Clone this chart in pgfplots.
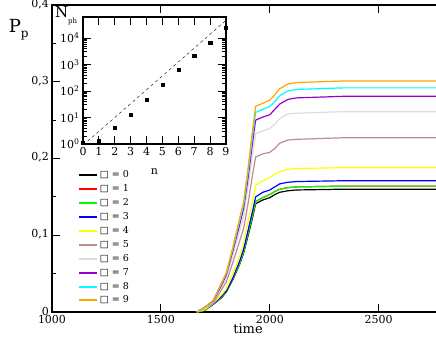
\documentclass[border=0pt]{standalone}
\usepackage{fontspec}
\setmainfont{DejaVu Serif}
\newfontfamily\symfont{DejaVu Sans}
\usepackage{pgfplots}
\usepackage{pgfplotstable}
\pgfplotsset{compat=1.18}

\definecolor{cred}{RGB}{255,0,0}
\definecolor{cgreen}{RGB}{0,255,0}
\definecolor{cblue}{RGB}{0,0,255}
\definecolor{cyellow}{RGB}{255,255,0}
\definecolor{cbrown}{HTML}{BC8F8F}
\definecolor{cgray}{HTML}{DCDCDC}
\definecolor{cpurple}{HTML}{9400D3}
\definecolor{ccyan}{RGB}{0,255,255}
\definecolor{corange}{HTML}{FFA500}

% cumulative curves P_p(time), one column per value 0..9
\pgfplotstableread{
t     c0    c1    c2    c3    c4    c5    c6    c7    c8    c9
1665  0     0     0     0     0     0     0     0     0     0
1700  0.002 0.002 0.002 0.003 0.003 0.005 0.005 0.006 0.006 0.006
1740  0.010 0.010 0.010 0.010 0.011 0.011 0.013 0.014 0.015 0.015
1780  0.019 0.020 0.020 0.021 0.023 0.030 0.034 0.036 0.038 0.039
1800  0.026 0.026 0.026 0.027 0.030 0.039 0.044 0.048 0.050 0.051
1830  0.042 0.043 0.043 0.044 0.049 0.064 0.073 0.079 0.082 0.084
1860  0.061 0.062 0.062 0.065 0.071 0.091 0.104 0.112 0.117 0.120
1880  0.077 0.079 0.079 0.082 0.090 0.109 0.125 0.135 0.140 0.144
1900  0.099 0.102 0.102 0.106 0.117 0.141 0.162 0.174 0.181 0.187
1920  0.122 0.125 0.125 0.130 0.143 0.177 0.204 0.219 0.228 0.235
1935  0.141 0.144 0.144 0.150 0.165 0.202 0.232 0.250 0.260 0.268
1968  0.146 0.149 0.149 0.156 0.171 0.206 0.236 0.254 0.264 0.272
2000  0.149 0.153 0.153 0.159 0.175 0.208 0.239 0.257 0.268 0.276
2023  0.153 0.157 0.157 0.163 0.180 0.213 0.245 0.264 0.274 0.283
2046  0.156 0.160 0.160 0.167 0.183 0.220 0.252 0.271 0.282 0.291
2083  0.158 0.162 0.162 0.169 0.186 0.224 0.258 0.277 0.288 0.297
2124  0.159 0.163 0.163 0.170 0.187 0.225 0.259 0.279 0.290 0.299
2335  0.160 0.164 0.164 0.171 0.188 0.227 0.261 0.281 0.292 0.301
2800  0.160 0.164 0.164 0.171 0.188 0.227 0.261 0.281 0.292 0.301
}\curves

\begin{document}
\begin{tikzpicture}
\begin{axis}[
  at={(52pt,44pt)}, anchor=south west,
  width=392pt, height=307pt, scale only axis,
  xmin=1000, xmax=2800, ymin=0, ymax=0.4,
  xtick={1000,1500,2000,2500},
  ytick={0,0.1,0.2,0.3,0.4}, minor y tick num=1,
  tick align=inside, major tick length=8pt, minor tick length=4pt,
  axis line style={line width=1.6pt},
  every tick/.style={black, line width=1pt},
  /pgf/number format/assume math mode=true,
  tick label style={font=\fontsize{11}{12}\selectfont, inner sep=1pt},
  xticklabel style={/pgf/number format/1000 sep={}, yshift=-2pt},
  yticklabel style={/pgf/number format/.cd, use comma, fixed, precision=1,
    /tikz/.cd, yshift=1pt, xshift=-2pt},
  xlabel={time},
  xlabel style={font=\fontsize{13}{14}\selectfont, yshift=4pt},
  ylabel={P\raisebox{-5pt}{\fontsize{12}{12}\selectfont p}},
  ylabel style={rotate=-90, at={(rel axis cs:-0.085,0.92)}, anchor=center,
    font=\fontsize{18}{18}\selectfont},
  legend cell align=left,
  legend style={draw=none, fill=none, at={(rel axis cs:0.058,0.475)},
    anchor=north west, font=\fontsize{9.5}{10}\selectfont, row sep=0pt,
    nodes={text height=7pt, text depth=2pt, inner ysep=2.45pt}},
  legend image code/.code={\draw[#1, line width=2pt] (0pt,0pt) -- (18pt,0pt);},
  every axis plot/.append style={line width=1.2pt},
]
\addplot[black]   table[x=t, y=c0] {\curves}; \addlegendentry{{\symfont □} = 0}
\addplot[cred]    table[x=t, y=c1] {\curves}; \addlegendentry{{\symfont □} = 1}
\addplot[cgreen]  table[x=t, y=c2] {\curves}; \addlegendentry{{\symfont □} = 2}
\addplot[cblue]   table[x=t, y=c3] {\curves}; \addlegendentry{{\symfont □} = 3}
\addplot[cyellow] table[x=t, y=c4] {\curves}; \addlegendentry{{\symfont □} = 4}
\addplot[cbrown]  table[x=t, y=c5] {\curves}; \addlegendentry{{\symfont □} = 5}
\addplot[cgray]   table[x=t, y=c6] {\curves}; \addlegendentry{{\symfont □} = 6}
\addplot[cpurple] table[x=t, y=c7] {\curves}; \addlegendentry{{\symfont □} = 7}
\addplot[ccyan]   table[x=t, y=c8] {\curves}; \addlegendentry{{\symfont □} = 8}
\addplot[corange] table[x=t, y=c9] {\curves}; \addlegendentry{{\symfont □} = 9}
\end{axis}

% inset: N_ph versus n
\begin{axis}[
  at={(83pt,212pt)}, anchor=south west,
  width=143pt, height=127pt, scale only axis,
  ymode=log, xmin=0, xmax=9, ymin=1, ymax=63000,
  xtick={0,1,...,9},
  ytick={1,10,100,1000,10000},
  yticklabels={10\textsuperscript{0},10\textsuperscript{1},10\textsuperscript{2},10\textsuperscript{3},10\textsuperscript{4}},
  tick align=inside, major tick length=8pt, minor tick length=4pt,
  axis line style={line width=1.4pt},
  every tick/.style={black, line width=1pt},
  /pgf/number format/assume math mode=true,
  tick label style={font=\fontsize{11}{12}\selectfont},
  xlabel={n},
  xlabel style={at={(rel axis cs:0.5,-0.22)}, anchor=center, font=\fontsize{11}{12}\selectfont},
  ylabel={N\raisebox{-6pt}{\fontsize{7}{7}\selectfont ph}},
  ylabel style={rotate=-90, at={(rel axis cs:-0.22,1.11)}, anchor=north west,
    font=\fontsize{15}{15}\selectfont},
  clip mode=individual,
]
\addplot[only marks, mark=square*, mark size=1.6pt, black] coordinates {
  (0,1.1) (1,1.3) (2,4) (3,13) (4,46) (5,170) (6,640) (7,2100) (8,6900) (9,24000)
};
\addplot[black, dashed, thin] coordinates {(0,0.9) (9,47000)};
\end{axis}

\pgfresetboundingbox
\path (0pt,0pt) rectangle (436pt,356pt);
\end{tikzpicture}
\end{document}
